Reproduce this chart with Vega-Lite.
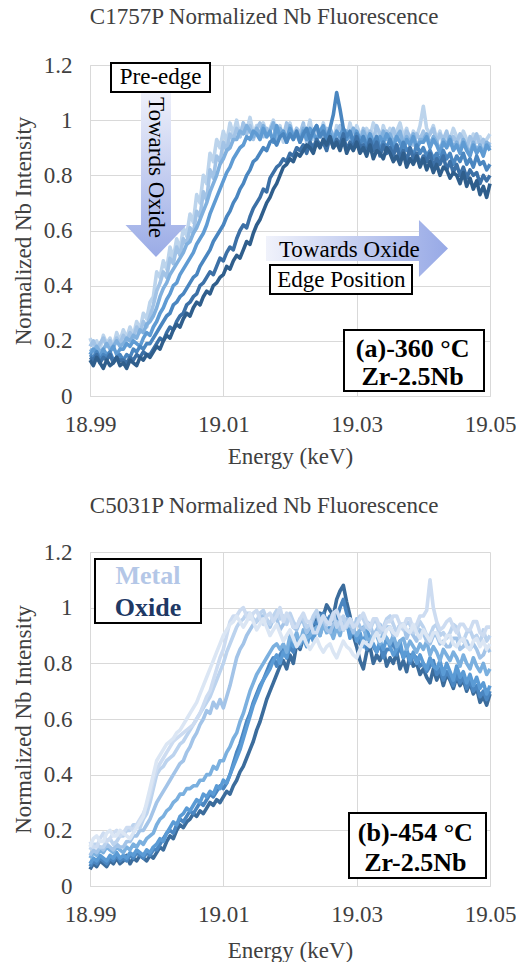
{
"$schema": "https://vega.github.io/schema/vega-lite/v6.json",
"padding": {"left": 12, "top": 6, "right": 0, "bottom": 0},
"resolve": {"scale": {"color": "independent"}},
"config": {
  "font": "Liberation Serif",
  "view": {"stroke": null},
  "axis": {"gridColor": "#d9d9d9", "domainColor": "#d9d9d9", "ticks": false, "labelFont": "Liberation Serif", "labelFontSize": 23, "labelColor": "#404040", "titleFont": "Liberation Serif", "titleFontSize": 23, "titleFontWeight": "normal", "titleColor": "#404040", "labelFlush": false, "labelOverlap": false},
  "title": {"font": "Liberation Serif", "fontSize": 23, "fontWeight": "normal", "color": "#404040", "frame": "bounds", "anchor": "middle"},
  "text": {"font": "Liberation Serif"},
  "concat": {"spacing": 27}
},
"datasets": {
"p1": [
{"e":18.99,"a":0.21,"b":0.18,"c":0.17,"d":0.15,"f":0.15,"g":0.14,"h":0.13},
{"e":18.9905,"a":0.18,"b":0.20,"c":0.16,"d":0.17,"f":0.14,"g":0.13,"h":0.11},
{"e":18.991,"a":0.20,"b":0.17,"c":0.18,"d":0.16,"f":0.16,"g":0.15,"h":0.14},
{"e":18.9915,"a":0.17,"b":0.19,"c":0.16,"d":0.14,"f":0.13,"g":0.12,"h":0.12},
{"e":18.992,"a":0.22,"b":0.21,"c":0.17,"d":0.17,"f":0.15,"g":0.14,"h":0.10},
{"e":18.9925,"a":0.19,"b":0.18,"c":0.19,"d":0.15,"f":0.14,"g":0.13,"h":0.13},
{"e":18.993,"a":0.21,"b":0.20,"c":0.17,"d":0.16,"f":0.16,"g":0.15,"h":0.11},
{"e":18.9935,"a":0.18,"b":0.17,"c":0.18,"d":0.18,"f":0.13,"g":0.12,"h":0.12},
{"e":18.994,"a":0.23,"b":0.21,"c":0.20,"d":0.15,"f":0.14,"g":0.14,"h":0.14},
{"e":18.9945,"a":0.20,"b":0.19,"c":0.18,"d":0.17,"f":0.15,"g":0.13,"h":0.11},
{"e":18.995,"a":0.24,"b":0.22,"c":0.19,"d":0.17,"f":0.13,"g":0.13,"h":0.12},
{"e":18.9955,"a":0.21,"b":0.20,"c":0.21,"d":0.19,"f":0.15,"g":0.12,"h":0.10},
{"e":18.996,"a":0.25,"b":0.23,"c":0.20,"d":0.18,"f":0.14,"g":0.14,"h":0.13},
{"e":18.9965,"a":0.22,"b":0.21,"c":0.22,"d":0.20,"f":0.17,"g":0.13,"h":0.12},
{"e":18.997,"a":0.27,"b":0.25,"c":0.21,"d":0.19,"f":0.16,"g":0.15,"h":0.11},
{"e":18.9975,"a":0.24,"b":0.23,"c":0.24,"d":0.18,"f":0.18,"g":0.14,"h":0.14},
{"e":18.998,"a":0.30,"b":0.27,"c":0.23,"d":0.21,"f":0.17,"g":0.16,"h":0.13},
{"e":18.9985,"a":0.28,"b":0.25,"c":0.26,"d":0.23,"f":0.19,"g":0.15,"h":0.15},
{"e":18.999,"a":0.34,"b":0.29,"c":0.27,"d":0.22,"f":0.19,"g":0.15,"h":0.14},
{"e":18.9995,"a":0.36,"b":0.33,"c":0.29,"d":0.25,"f":0.21,"g":0.17,"h":0.16},
{"e":19.0,"a":0.45,"b":0.38,"c":0.32,"d":0.27,"f":0.23,"g":0.19,"h":0.18},
{"e":19.0005,"a":0.43,"b":0.41,"c":0.36,"d":0.30,"f":0.25,"g":0.21,"h":0.17},
{"e":19.001,"a":0.49,"b":0.45,"c":0.39,"d":0.32,"f":0.27,"g":0.20,"h":0.20},
{"e":19.0015,"a":0.46,"b":0.43,"c":0.41,"d":0.35,"f":0.29,"g":0.23,"h":0.22},
{"e":19.002,"a":0.54,"b":0.50,"c":0.44,"d":0.37,"f":0.30,"g":0.25,"h":0.21},
{"e":19.0025,"a":0.50,"b":0.48,"c":0.46,"d":0.40,"f":0.33,"g":0.24,"h":0.24},
{"e":19.003,"a":0.57,"b":0.54,"c":0.48,"d":0.41,"f":0.34,"g":0.27,"h":0.26},
{"e":19.0035,"a":0.53,"b":0.51,"c":0.50,"d":0.44,"f":0.36,"g":0.29,"h":0.25},
{"e":19.004,"a":0.61,"b":0.57,"c":0.52,"d":0.46,"f":0.37,"g":0.30,"h":0.28},
{"e":19.0045,"a":0.58,"b":0.55,"c":0.55,"d":0.48,"f":0.39,"g":0.33,"h":0.30},
{"e":19.005,"a":0.66,"b":0.61,"c":0.56,"d":0.50,"f":0.41,"g":0.34,"h":0.29},
{"e":19.0055,"a":0.63,"b":0.59,"c":0.59,"d":0.52,"f":0.43,"g":0.36,"h":0.32},
{"e":19.006,"a":0.73,"b":0.67,"c":0.61,"d":0.55,"f":0.44,"g":0.37,"h":0.34},
{"e":19.0065,"a":0.70,"b":0.65,"c":0.64,"d":0.57,"f":0.47,"g":0.40,"h":0.33},
{"e":19.007,"a":0.80,"b":0.74,"c":0.67,"d":0.59,"f":0.49,"g":0.41,"h":0.36},
{"e":19.0075,"a":0.77,"b":0.71,"c":0.70,"d":0.62,"f":0.51,"g":0.43,"h":0.38},
{"e":19.008,"a":0.88,"b":0.82,"c":0.74,"d":0.66,"f":0.53,"g":0.45,"h":0.37},
{"e":19.0085,"a":0.85,"b":0.79,"c":0.77,"d":0.69,"f":0.56,"g":0.44,"h":0.40},
{"e":19.009,"a":0.93,"b":0.87,"c":0.80,"d":0.72,"f":0.58,"g":0.47,"h":0.41},
{"e":19.0095,"a":0.90,"b":0.85,"c":0.84,"d":0.75,"f":0.60,"g":0.50,"h":0.43},
{"e":19.01,"a":0.96,"b":0.92,"c":0.86,"d":0.78,"f":0.62,"g":0.49,"h":0.44},
{"e":19.0105,"a":0.92,"b":0.89,"c":0.89,"d":0.81,"f":0.65,"g":0.52,"h":0.47},
{"e":19.011,"a":0.99,"b":0.95,"c":0.90,"d":0.83,"f":0.67,"g":0.54,"h":0.46},
{"e":19.0115,"a":0.95,"b":0.93,"c":0.93,"d":0.86,"f":0.70,"g":0.53,"h":0.49},
{"e":19.012,"a":1.00,"b":0.97,"c":0.93,"d":0.88,"f":0.72,"g":0.57,"h":0.51},
{"e":19.0125,"a":0.94,"b":0.94,"c":0.96,"d":0.90,"f":0.75,"g":0.60,"h":0.50},
{"e":19.013,"a":0.99,"b":0.99,"c":0.95,"d":0.91,"f":0.77,"g":0.62,"h":0.53},
{"e":19.0135,"a":0.96,"b":0.95,"c":0.98,"d":0.94,"f":0.80,"g":0.61,"h":0.56},
{"e":19.014,"a":1.01,"b":0.98,"c":0.96,"d":0.93,"f":0.82,"g":0.65,"h":0.55},
{"e":19.0145,"a":0.95,"b":0.93,"c":0.94,"d":0.96,"f":0.85,"g":0.68,"h":0.59},
{"e":19.015,"a":0.98,"b":0.97,"c":0.97,"d":0.95,"f":0.86,"g":0.70,"h":0.62},
{"e":19.0155,"a":0.93,"b":0.99,"c":0.95,"d":0.93,"f":0.88,"g":0.72,"h":0.64},
{"e":19.016,"a":0.99,"b":0.94,"c":0.98,"d":0.97,"f":0.90,"g":0.75,"h":0.67},
{"e":19.0165,"a":0.95,"b":0.97,"c":0.94,"d":0.94,"f":0.89,"g":0.74,"h":0.70},
{"e":19.017,"a":0.97,"b":0.95,"c":0.96,"d":0.96,"f":0.92,"g":0.79,"h":0.72},
{"e":19.0175,"a":1.00,"b":0.93,"c":0.99,"d":0.92,"f":0.93,"g":0.81,"h":0.75},
{"e":19.018,"a":0.94,"b":0.98,"c":0.93,"d":0.98,"f":0.91,"g":0.83,"h":0.77},
{"e":19.0185,"a":0.98,"b":0.96,"c":0.97,"d":0.94,"f":0.94,"g":0.84,"h":0.80},
{"e":19.019,"a":0.92,"b":0.94,"c":0.95,"d":0.96,"f":0.95,"g":0.86,"h":0.83},
{"e":19.0195,"a":0.97,"b":0.99,"c":0.92,"d":0.93,"f":0.92,"g":0.85,"h":0.84},
{"e":19.02,"a":0.99,"b":0.96,"c":0.98,"d":0.97,"f":0.95,"g":0.88,"h":0.86},
{"e":19.0205,"a":0.94,"b":0.93,"c":0.94,"d":0.94,"f":0.93,"g":0.87,"h":0.85},
{"e":19.021,"a":0.97,"b":0.97,"c":0.96,"d":0.95,"f":0.96,"g":0.90,"h":0.88},
{"e":19.0215,"a":0.93,"b":0.95,"c":0.93,"d":0.92,"f":0.92,"g":0.89,"h":0.87},
{"e":19.022,"a":0.98,"b":0.99,"c":0.97,"d":0.96,"f":0.95,"g":0.91,"h":0.89},
{"e":19.0225,"a":0.95,"b":0.92,"c":0.95,"d":0.93,"f":0.97,"g":0.88,"h":0.91},
{"e":19.023,"a":1.00,"b":0.96,"c":0.92,"d":0.97,"f":0.93,"g":0.92,"h":0.90},
{"e":19.0235,"a":0.93,"b":0.94,"c":0.96,"d":0.95,"f":0.96,"g":0.90,"h":0.88},
{"e":19.024,"a":0.97,"b":0.98,"c":0.98,"d":0.93,"f":0.98,"g":0.93,"h":0.92},
{"e":19.0245,"a":0.95,"b":0.95,"c":0.94,"d":0.96,"f":0.94,"g":0.91,"h":0.90},
{"e":19.025,"a":0.99,"b":0.93,"c":0.96,"d":0.98,"f":0.96,"g":0.92,"h":0.93},
{"e":19.0255,"a":0.94,"b":0.97,"c":0.93,"d":0.93,"f":0.93,"g":0.89,"h":0.91},
{"e":19.026,"a":0.96,"b":0.95,"c":0.97,"d":0.95,"f":0.97,"g":0.94,"h":0.94},
{"e":19.0265,"a":0.92,"b":0.92,"c":0.94,"d":0.92,"f":1.02,"g":0.90,"h":0.90},
{"e":19.027,"a":0.98,"b":0.96,"c":0.91,"d":0.96,"f":1.10,"g":0.93,"h":0.92},
{"e":19.0275,"a":0.95,"b":0.98,"c":0.95,"d":0.94,"f":1.04,"g":0.91,"h":0.89},
{"e":19.028,"a":0.97,"b":0.94,"c":0.93,"d":0.97,"f":0.97,"g":0.95,"h":0.93},
{"e":19.0285,"a":0.93,"b":0.96,"c":0.96,"d":0.93,"f":0.94,"g":0.89,"h":0.88},
{"e":19.029,"a":0.99,"b":0.93,"c":0.94,"d":0.95,"f":0.96,"g":0.92,"h":0.91},
{"e":19.0295,"a":0.94,"b":0.97,"c":0.97,"d":0.92,"f":0.92,"g":0.90,"h":0.89},
{"e":19.03,"a":0.98,"b":0.95,"c":0.94,"d":0.96,"f":0.95,"g":0.94,"h":0.92},
{"e":19.0305,"a":0.95,"b":0.92,"c":0.92,"d":0.93,"f":0.91,"g":0.90,"h":0.88},
{"e":19.031,"a":0.92,"b":0.97,"c":0.96,"d":0.94,"f":0.94,"g":0.91,"h":0.90},
{"e":19.0315,"a":0.97,"b":0.94,"c":0.93,"d":0.91,"f":0.90,"g":0.88,"h":0.87},
{"e":19.032,"a":0.94,"b":0.96,"c":0.95,"d":0.95,"f":0.93,"g":0.93,"h":0.91},
{"e":19.0325,"a":0.99,"b":0.93,"c":0.91,"d":0.92,"f":0.91,"g":0.89,"h":0.86},
{"e":19.033,"a":0.96,"b":0.98,"c":0.94,"d":0.90,"f":0.94,"g":0.92,"h":0.89},
{"e":19.0335,"a":0.92,"b":0.95,"c":0.92,"d":0.94,"f":0.89,"g":0.87,"h":0.88},
{"e":19.034,"a":0.98,"b":0.92,"c":0.96,"d":0.92,"f":0.92,"g":0.91,"h":0.86},
{"e":19.0345,"a":0.94,"b":0.96,"c":0.93,"d":0.95,"f":0.90,"g":0.88,"h":0.90},
{"e":19.035,"a":0.97,"b":0.94,"c":0.95,"d":0.93,"f":0.93,"g":0.90,"h":0.88},
{"e":19.0355,"a":0.93,"b":0.97,"c":0.92,"d":0.90,"f":0.89,"g":0.87,"h":0.85},
{"e":19.036,"a":0.96,"b":0.93,"c":0.94,"d":0.94,"f":0.91,"g":0.91,"h":0.87},
{"e":19.0365,"a":0.99,"b":0.95,"c":0.96,"d":0.92,"f":0.88,"g":0.86,"h":0.84},
{"e":19.037,"a":0.94,"b":0.92,"c":0.91,"d":0.89,"f":0.92,"g":0.89,"h":0.88},
{"e":19.0375,"a":0.97,"b":0.96,"c":0.94,"d":0.93,"f":0.89,"g":0.85,"h":0.83},
{"e":19.038,"a":0.92,"b":0.94,"c":0.92,"d":0.91,"f":0.90,"g":0.90,"h":0.86},
{"e":19.0385,"a":0.96,"b":0.91,"c":0.95,"d":0.94,"f":0.87,"g":0.86,"h":0.84},
{"e":19.039,"a":0.94,"b":0.95,"c":0.90,"d":0.90,"f":0.91,"g":0.88,"h":0.87},
{"e":19.0395,"a":0.98,"b":0.93,"c":0.93,"d":0.92,"f":0.88,"g":0.84,"h":0.83},
{"e":19.04,"a":1.05,"b":0.96,"c":0.93,"d":0.92,"f":0.90,"g":0.87,"h":0.86},
{"e":19.0405,"a":0.97,"b":0.93,"c":0.95,"d":0.94,"f":0.87,"g":0.85,"h":0.82},
{"e":19.041,"a":0.95,"b":0.95,"c":0.91,"d":0.90,"f":0.89,"g":0.88,"h":0.85},
{"e":19.0415,"a":0.98,"b":0.97,"c":0.94,"d":0.93,"f":0.86,"g":0.83,"h":0.81},
{"e":19.042,"a":0.93,"b":0.92,"c":0.92,"d":0.91,"f":0.88,"g":0.86,"h":0.84},
{"e":19.0425,"a":0.96,"b":0.95,"c":0.89,"d":0.88,"f":0.85,"g":0.84,"h":0.80},
{"e":19.043,"a":0.91,"b":0.93,"c":0.93,"d":0.92,"f":0.89,"g":0.87,"h":0.83},
{"e":19.0435,"a":0.95,"b":0.96,"c":0.91,"d":0.90,"f":0.86,"g":0.82,"h":0.82},
{"e":19.044,"a":0.93,"b":0.91,"c":0.94,"d":0.93,"f":0.88,"g":0.85,"h":0.79},
{"e":19.0445,"a":0.97,"b":0.94,"c":0.90,"d":0.89,"f":0.84,"g":0.81,"h":0.81},
{"e":19.045,"a":0.94,"b":0.92,"c":0.92,"d":0.91,"f":0.87,"g":0.84,"h":0.80},
{"e":19.0455,"a":0.91,"b":0.95,"c":0.89,"d":0.88,"f":0.85,"g":0.80,"h":0.77},
{"e":19.046,"a":0.96,"b":0.93,"c":0.93,"d":0.92,"f":0.88,"g":0.83,"h":0.81},
{"e":19.0465,"a":0.93,"b":0.90,"c":0.90,"d":0.89,"f":0.84,"g":0.79,"h":0.76},
{"e":19.047,"a":0.90,"b":0.94,"c":0.88,"d":0.87,"f":0.86,"g":0.82,"h":0.79},
{"e":19.0475,"a":0.95,"b":0.92,"c":0.92,"d":0.91,"f":0.83,"g":0.80,"h":0.75},
{"e":19.048,"a":0.92,"b":0.95,"c":0.89,"d":0.88,"f":0.87,"g":0.81,"h":0.78},
{"e":19.0485,"a":0.94,"b":0.91,"c":0.91,"d":0.90,"f":0.84,"g":0.77,"h":0.73},
{"e":19.049,"a":0.91,"b":0.93,"c":0.88,"d":0.87,"f":0.85,"g":0.80,"h":0.76},
{"e":19.0495,"a":0.93,"b":0.90,"c":0.92,"d":0.91,"f":0.82,"g":0.78,"h":0.72},
{"e":19.05,"a":0.95,"b":0.92,"c":0.90,"d":0.89,"f":0.84,"g":0.80,"h":0.77}
],
"p2": [
{"e":18.99,"a":0.06,"b":0.07,"c":0.08,"d":0.10,"f":0.11,"g":0.13,"h":0.16,"i":0.14},
{"e":18.9905,"a":0.08,"b":0.09,"c":0.10,"d":0.12,"f":0.13,"g":0.15,"h":0.14,"i":0.17},
{"e":18.991,"a":0.07,"b":0.08,"c":0.09,"d":0.11,"f":0.12,"g":0.15,"h":0.14,"i":0.18},
{"e":18.9915,"a":0.09,"b":0.10,"c":0.11,"d":0.13,"f":0.14,"g":0.14,"h":0.17,"i":0.16},
{"e":18.992,"a":0.08,"b":0.09,"c":0.10,"d":0.12,"f":0.13,"g":0.14,"h":0.19,"i":0.16},
{"e":18.9925,"a":0.07,"b":0.08,"c":0.09,"d":0.14,"f":0.15,"g":0.16,"h":0.16,"i":0.19},
{"e":18.993,"a":0.09,"b":0.10,"c":0.11,"d":0.13,"f":0.14,"g":0.17,"h":0.17,"i":0.20},
{"e":18.9935,"a":0.08,"b":0.09,"c":0.10,"d":0.12,"f":0.13,"g":0.15,"h":0.19,"i":0.18},
{"e":18.994,"a":0.10,"b":0.11,"c":0.12,"d":0.14,"f":0.15,"g":0.16,"h":0.20,"i":0.18},
{"e":18.9945,"a":0.08,"b":0.09,"c":0.10,"d":0.13,"f":0.14,"g":0.18,"h":0.18,"i":0.20},
{"e":18.995,"a":0.09,"b":0.10,"c":0.11,"d":0.12,"f":0.14,"g":0.18,"h":0.19,"i":0.19},
{"e":18.9955,"a":0.11,"b":0.09,"c":0.10,"d":0.14,"f":0.16,"g":0.20,"h":0.21,"i":0.18},
{"e":18.996,"a":0.08,"b":0.11,"c":0.12,"d":0.13,"f":0.16,"g":0.20,"h":0.21,"i":0.17},
{"e":18.9965,"a":0.10,"b":0.10,"c":0.11,"d":0.15,"f":0.18,"g":0.22,"h":0.20,"i":0.19},
{"e":18.997,"a":0.09,"b":0.12,"c":0.13,"d":0.14,"f":0.18,"g":0.22,"h":0.22,"i":0.21},
{"e":18.9975,"a":0.11,"b":0.11,"c":0.12,"d":0.16,"f":0.20,"g":0.21,"h":0.24,"i":0.23},
{"e":18.998,"a":0.10,"b":0.10,"c":0.11,"d":0.15,"f":0.20,"g":0.24,"h":0.26,"i":0.25},
{"e":18.9985,"a":0.09,"b":0.12,"c":0.13,"d":0.17,"f":0.22,"g":0.26,"h":0.29,"i":0.30},
{"e":18.999,"a":0.11,"b":0.11,"c":0.12,"d":0.18,"f":0.24,"g":0.30,"h":0.33,"i":0.35},
{"e":18.9995,"a":0.10,"b":0.13,"c":0.14,"d":0.19,"f":0.27,"g":0.35,"h":0.38,"i":0.40},
{"e":19.0,"a":0.12,"b":0.13,"c":0.15,"d":0.22,"f":0.30,"g":0.40,"h":0.42,"i":0.45},
{"e":19.0005,"a":0.14,"b":0.15,"c":0.17,"d":0.24,"f":0.32,"g":0.42,"h":0.44,"i":0.47},
{"e":19.001,"a":0.13,"b":0.17,"c":0.16,"d":0.25,"f":0.34,"g":0.43,"h":0.46,"i":0.49},
{"e":19.0015,"a":0.16,"b":0.19,"c":0.19,"d":0.27,"f":0.36,"g":0.45,"h":0.48,"i":0.51},
{"e":19.002,"a":0.18,"b":0.20,"c":0.21,"d":0.28,"f":0.38,"g":0.46,"h":0.50,"i":0.52},
{"e":19.0025,"a":0.17,"b":0.19,"c":0.23,"d":0.30,"f":0.40,"g":0.47,"h":0.52,"i":0.53},
{"e":19.003,"a":0.20,"b":0.22,"c":0.22,"d":0.31,"f":0.42,"g":0.49,"h":0.53,"i":0.55},
{"e":19.0035,"a":0.22,"b":0.24,"c":0.25,"d":0.33,"f":0.44,"g":0.51,"h":0.54,"i":0.56},
{"e":19.004,"a":0.21,"b":0.23,"c":0.26,"d":0.33,"f":0.45,"g":0.52,"h":0.55,"i":0.58},
{"e":19.0045,"a":0.23,"b":0.25,"c":0.28,"d":0.35,"f":0.48,"g":0.54,"h":0.56,"i":0.60},
{"e":19.005,"a":0.24,"b":0.27,"c":0.27,"d":0.35,"f":0.50,"g":0.56,"h":0.57,"i":0.62},
{"e":19.0055,"a":0.26,"b":0.26,"c":0.29,"d":0.36,"f":0.53,"g":0.58,"h":0.58,"i":0.64},
{"e":19.006,"a":0.25,"b":0.28,"c":0.31,"d":0.36,"f":0.55,"g":0.60,"h":0.60,"i":0.66},
{"e":19.0065,"a":0.27,"b":0.30,"c":0.30,"d":0.38,"f":0.58,"g":0.62,"h":0.62,"i":0.69},
{"e":19.007,"a":0.26,"b":0.29,"c":0.33,"d":0.38,"f":0.60,"g":0.64,"h":0.65,"i":0.72},
{"e":19.0075,"a":0.28,"b":0.31,"c":0.32,"d":0.40,"f":0.63,"g":0.66,"h":0.68,"i":0.75},
{"e":19.008,"a":0.30,"b":0.33,"c":0.34,"d":0.40,"f":0.62,"g":0.68,"h":0.70,"i":0.78},
{"e":19.0085,"a":0.29,"b":0.32,"c":0.33,"d":0.43,"f":0.66,"g":0.71,"h":0.74,"i":0.81},
{"e":19.009,"a":0.31,"b":0.34,"c":0.36,"d":0.42,"f":0.64,"g":0.74,"h":0.78,"i":0.84},
{"e":19.0095,"a":0.30,"b":0.36,"c":0.35,"d":0.45,"f":0.67,"g":0.77,"h":0.82,"i":0.87},
{"e":19.01,"a":0.32,"b":0.35,"c":0.38,"d":0.45,"f":0.64,"g":0.80,"h":0.85,"i":0.90},
{"e":19.0105,"a":0.34,"b":0.37,"c":0.37,"d":0.48,"f":0.68,"g":0.84,"h":0.90,"i":0.92},
{"e":19.011,"a":0.33,"b":0.40,"c":0.40,"d":0.50,"f":0.72,"g":0.87,"h":0.95,"i":0.94},
{"e":19.0115,"a":0.36,"b":0.44,"c":0.43,"d":0.53,"f":0.77,"g":0.90,"h":0.97,"i":0.95},
{"e":19.012,"a":0.38,"b":0.48,"c":0.46,"d":0.55,"f":0.82,"g":0.93,"h":0.97,"i":0.97},
{"e":19.0125,"a":0.41,"b":0.51,"c":0.49,"d":0.59,"f":0.85,"g":0.95,"h":0.99,"i":0.95},
{"e":19.013,"a":0.43,"b":0.55,"c":0.53,"d":0.62,"f":0.87,"g":0.96,"h":1.00,"i":0.93},
{"e":19.0135,"a":0.46,"b":0.59,"c":0.57,"d":0.66,"f":0.90,"g":0.98,"h":0.97,"i":0.95},
{"e":19.014,"a":0.49,"b":0.62,"c":0.61,"d":0.70,"f":0.92,"g":0.98,"h":0.96,"i":0.98},
{"e":19.0145,"a":0.52,"b":0.66,"c":0.65,"d":0.73,"f":0.94,"g":0.96,"h":0.98,"i":0.95},
{"e":19.015,"a":0.56,"b":0.69,"c":0.68,"d":0.76,"f":0.95,"g":0.95,"h":0.99,"i":0.92},
{"e":19.0155,"a":0.59,"b":0.72,"c":0.71,"d":0.78,"f":0.97,"g":0.98,"h":0.96,"i":0.94},
{"e":19.016,"a":0.63,"b":0.74,"c":0.74,"d":0.80,"f":0.97,"g":0.99,"h":0.94,"i":0.96},
{"e":19.0165,"a":0.67,"b":0.77,"c":0.76,"d":0.82,"f":0.94,"g":0.96,"h":0.97,"i":0.93},
{"e":19.017,"a":0.70,"b":0.80,"c":0.78,"d":0.84,"f":0.93,"g":0.94,"h":0.98,"i":0.90},
{"e":19.0175,"a":0.73,"b":0.82,"c":0.81,"d":0.86,"f":0.96,"g":0.97,"h":0.95,"i":0.92},
{"e":19.018,"a":0.76,"b":0.79,"c":0.83,"d":0.87,"f":0.96,"g":0.99,"h":0.97,"i":0.94},
{"e":19.0185,"a":0.79,"b":0.83,"c":0.80,"d":0.85,"f":0.92,"g":0.96,"h":1.00,"i":0.91},
{"e":19.019,"a":0.81,"b":0.85,"c":0.84,"d":0.87,"f":0.94,"g":0.97,"h":0.95,"i":0.88},
{"e":19.0195,"a":0.78,"b":0.82,"c":0.82,"d":0.84,"f":0.97,"g":0.94,"h":0.98,"i":0.90},
{"e":19.02,"a":0.83,"b":0.86,"c":0.88,"d":0.90,"f":0.97,"g":0.98,"h":0.96,"i":0.92},
{"e":19.0205,"a":0.80,"b":0.84,"c":0.86,"d":0.88,"f":0.93,"g":0.95,"h":0.93,"i":0.89},
{"e":19.021,"a":0.87,"b":0.88,"c":0.90,"d":0.91,"f":0.92,"g":0.93,"h":0.93,"i":0.86},
{"e":19.0215,"a":0.85,"b":0.86,"c":0.87,"d":0.87,"f":0.95,"g":0.96,"h":0.96,"i":0.88},
{"e":19.022,"a":0.89,"b":0.90,"c":0.89,"d":0.92,"f":0.95,"g":0.96,"h":0.98,"i":0.90},
{"e":19.0225,"a":0.87,"b":0.88,"c":0.86,"d":0.89,"f":0.91,"g":0.93,"h":0.95,"i":0.87},
{"e":19.023,"a":0.93,"b":0.92,"c":0.91,"d":0.90,"f":0.93,"g":0.94,"h":0.95,"i":0.85},
{"e":19.0235,"a":0.91,"b":0.95,"c":0.88,"d":0.92,"f":0.96,"g":0.97,"h":0.91,"i":0.87},
{"e":19.024,"a":0.96,"b":0.94,"c":0.93,"d":0.93,"f":0.98,"g":0.99,"h":0.91,"i":0.89},
{"e":19.0245,"a":0.98,"b":0.97,"c":0.90,"d":0.90,"f":0.94,"g":0.95,"h":0.94,"i":0.86},
{"e":19.025,"a":0.97,"b":0.98,"c":0.95,"d":0.94,"f":0.96,"g":0.97,"h":0.97,"i":0.84},
{"e":19.0255,"a":1.01,"b":0.95,"c":0.92,"d":0.91,"f":0.92,"g":0.94,"h":0.95,"i":0.86},
{"e":19.026,"a":0.99,"b":0.97,"c":0.93,"d":0.92,"f":0.91,"g":0.95,"h":0.94,"i":0.87},
{"e":19.0265,"a":0.97,"b":0.94,"c":0.91,"d":0.89,"f":0.94,"g":0.98,"h":0.98,"i":0.84},
{"e":19.027,"a":1.03,"b":0.96,"c":0.94,"d":0.93,"f":0.95,"g":0.93,"h":0.99,"i":0.82},
{"e":19.0275,"a":1.06,"b":1.00,"c":0.96,"d":0.90,"f":0.92,"g":0.95,"h":0.96,"i":0.85},
{"e":19.028,"a":1.08,"b":1.03,"c":0.92,"d":0.95,"f":0.93,"g":0.97,"h":0.92,"i":0.88},
{"e":19.0285,"a":1.02,"b":0.98,"c":0.95,"d":0.93,"f":0.96,"g":0.93,"h":0.94,"i":0.86},
{"e":19.029,"a":0.97,"b":0.95,"c":0.89,"d":0.96,"f":0.95,"g":0.96,"h":0.96,"i":0.85},
{"e":19.0295,"a":0.90,"b":0.92,"c":0.93,"d":0.92,"f":0.91,"g":0.94,"h":0.93,"i":0.83},
{"e":19.03,"a":0.86,"b":0.90,"c":0.88,"d":0.90,"f":0.96,"g":0.94,"h":0.94,"i":0.82},
{"e":19.0305,"a":0.81,"b":0.87,"c":0.91,"d":0.92,"f":0.93,"g":0.97,"h":0.96,"i":0.85},
{"e":19.031,"a":0.78,"b":0.89,"c":0.86,"d":0.93,"f":0.92,"g":0.96,"h":0.98,"i":0.88},
{"e":19.0315,"a":0.84,"b":0.85,"c":0.92,"d":0.89,"f":0.95,"g":0.93,"h":0.95,"i":0.87},
{"e":19.032,"a":0.86,"b":0.88,"c":0.89,"d":0.88,"f":0.94,"g":0.92,"h":0.93,"i":0.86},
{"e":19.0325,"a":0.80,"b":0.86,"c":0.87,"d":0.91,"f":0.90,"g":0.95,"h":0.96,"i":0.89},
{"e":19.033,"a":0.83,"b":0.84,"c":0.84,"d":0.90,"f":0.92,"g":0.95,"h":0.96,"i":0.91},
{"e":19.0335,"a":0.81,"b":0.87,"c":0.88,"d":0.87,"f":0.94,"g":0.91,"h":0.93,"i":0.88},
{"e":19.034,"a":0.85,"b":0.82,"c":0.85,"d":0.91,"f":0.90,"g":0.93,"h":0.92,"i":0.89},
{"e":19.0345,"a":0.79,"b":0.85,"c":0.89,"d":0.89,"f":0.93,"g":0.96,"h":0.95,"i":0.92},
{"e":19.035,"a":0.82,"b":0.85,"c":0.86,"d":0.87,"f":0.93,"g":0.97,"h":0.95,"i":0.93},
{"e":19.0355,"a":0.80,"b":0.88,"c":0.83,"d":0.90,"f":0.90,"g":0.94,"h":0.97,"i":0.91},
{"e":19.036,"a":0.84,"b":0.83,"c":0.85,"d":0.86,"f":0.91,"g":0.91,"h":0.97,"i":0.90},
{"e":19.0365,"a":0.78,"b":0.86,"c":0.88,"d":0.88,"f":0.94,"g":0.94,"h":0.94,"i":0.93},
{"e":19.037,"a":0.81,"b":0.82,"c":0.82,"d":0.89,"f":0.94,"g":0.92,"h":0.93,"i":0.94},
{"e":19.0375,"a":0.77,"b":0.84,"c":0.85,"d":0.85,"f":0.89,"g":0.95,"h":0.96,"i":0.92},
{"e":19.038,"a":0.83,"b":0.80,"c":0.81,"d":0.88,"f":0.92,"g":0.94,"h":0.96,"i":0.91},
{"e":19.0385,"a":0.79,"b":0.83,"c":0.84,"d":0.86,"f":0.90,"g":0.91,"h":0.92,"i":0.94},
{"e":19.039,"a":0.80,"b":0.82,"c":0.80,"d":0.84,"f":0.88,"g":0.92,"h":0.94,"i":0.91},
{"e":19.0395,"a":0.76,"b":0.79,"c":0.83,"d":0.87,"f":0.92,"g":0.95,"h":0.97,"i":0.89},
{"e":19.04,"a":0.78,"b":0.80,"c":0.80,"d":0.85,"f":0.91,"g":0.93,"h":0.97,"i":0.92},
{"e":19.0405,"a":0.75,"b":0.77,"c":0.78,"d":0.88,"f":0.88,"g":0.90,"h":0.99,"i":0.90},
{"e":19.041,"a":0.73,"b":0.79,"c":0.82,"d":0.83,"f":0.87,"g":0.90,"h":1.10,"i":0.88},
{"e":19.0415,"a":0.78,"b":0.81,"c":0.79,"d":0.86,"f":0.90,"g":0.93,"h":1.00,"i":0.91},
{"e":19.042,"a":0.74,"b":0.76,"c":0.78,"d":0.84,"f":0.90,"g":0.94,"h":0.95,"i":0.91},
{"e":19.0425,"a":0.77,"b":0.78,"c":0.81,"d":0.81,"f":0.87,"g":0.90,"h":0.92,"i":0.88},
{"e":19.043,"a":0.72,"b":0.74,"c":0.76,"d":0.85,"f":0.88,"g":0.91,"h":0.93,"i":0.87},
{"e":19.0435,"a":0.76,"b":0.77,"c":0.80,"d":0.83,"f":0.86,"g":0.89,"h":0.95,"i":0.90},
{"e":19.044,"a":0.74,"b":0.75,"c":0.77,"d":0.81,"f":0.86,"g":0.91,"h":0.96,"i":0.90},
{"e":19.0445,"a":0.71,"b":0.72,"c":0.74,"d":0.84,"f":0.89,"g":0.94,"h":0.93,"i":0.87},
{"e":19.045,"a":0.75,"b":0.76,"c":0.79,"d":0.82,"f":0.89,"g":0.93,"h":0.91,"i":0.86},
{"e":19.0455,"a":0.72,"b":0.73,"c":0.75,"d":0.79,"f":0.85,"g":0.89,"h":0.94,"i":0.88},
{"e":19.046,"a":0.74,"b":0.75,"c":0.77,"d":0.83,"f":0.86,"g":0.88,"h":0.94,"i":0.89},
{"e":19.0465,"a":0.70,"b":0.71,"c":0.73,"d":0.80,"f":0.88,"g":0.91,"h":0.92,"i":0.86},
{"e":19.047,"a":0.73,"b":0.74,"c":0.76,"d":0.78,"f":0.85,"g":0.92,"h":0.92,"i":0.85},
{"e":19.0475,"a":0.69,"b":0.70,"c":0.72,"d":0.82,"f":0.87,"g":0.89,"h":0.95,"i":0.88},
{"e":19.048,"a":0.71,"b":0.72,"c":0.75,"d":0.79,"f":0.85,"g":0.90,"h":0.95,"i":0.89},
{"e":19.0485,"a":0.66,"b":0.68,"c":0.71,"d":0.77,"f":0.82,"g":0.87,"h":0.91,"i":0.86},
{"e":19.049,"a":0.68,"b":0.70,"c":0.73,"d":0.80,"f":0.83,"g":0.92,"h":0.90,"i":0.88},
{"e":19.0495,"a":0.65,"b":0.67,"c":0.69,"d":0.76,"f":0.86,"g":0.88,"h":0.93,"i":0.85},
{"e":19.05,"a":0.69,"b":0.70,"c":0.72,"d":0.78,"f":0.84,"g":0.90,"h":0.93,"i":0.87}
]
},
"vconcat": [
{
  "title": {"text": "C1757P Normalized Nb Fluorescence", "offset": 25},
  "width": 400, "height": 331,
  "layer": [
    {
      "data": {"name": "p1"},
      "transform": [{"fold": ["a","b","c","d","f","g","h"], "as": ["k","v"]}],
      "mark": {"type": "line", "strokeWidth": 3.6, "strokeJoin": "round"},
      "encoding": {
        "x": {"field": "e", "type": "quantitative", "scale": {"domain": [18.99, 19.05], "nice": false},
              "axis": {"values": [18.99, 19.01, 19.03, 19.05], "format": ".2f", "title": "Energy (keV)", "labelPadding": 17, "titlePadding": 9, "grid": true}},
        "y": {"field": "v", "type": "quantitative", "scale": {"domain": [0, 1.2], "nice": false},
              "axis": {"values": [0, 0.2, 0.4, 0.6, 0.8, 1, 1.2], "format": "~g", "title": "Normalized Nb Intensity", "labelPadding": 18, "titlePadding": 8, "grid": true}},
        "color": {"field": "k", "type": "nominal", "legend": null,
                  "scale": {"domain": ["a","b","c","d","f","g","h"], "range": ["#bcd4ec","#a2c3e6","#80b0de","#5f9bd3","#4a86c0","#3c70a6","#2f5e8c"]}}
      }
    },
    {
      "data": {"values": [{"e": 18.9999, "v": 0.801}]},
      "mark": {"type": "point", "shape": "M -0.183 -1 L 0.183 -1 L 0.183 0.61 L 0.372 0.61 L 0 1 L -0.372 0.61 L -0.183 0.61 Z", "size": 26896, "filled": true, "opacity": 1, "strokeWidth": 0,
               "fill": {"gradient": "linear", "x1": 0, "y1": 0, "x2": 0, "y2": 1, "stops": [{"offset": 0, "color": "#eef0fa"}, {"offset": 1, "color": "#9aabe6"}]}},
      "encoding": {"x": {"field": "e", "type": "quantitative"}, "y": {"field": "v", "type": "quantitative"}}
    },
    {
      "data": {"values": [{"e": 19.03005, "v": 0.5348}]},
      "mark": {"type": "point", "shape": "M -1 -0.137 L 0.681 -0.137 L 0.681 -0.313 L 1 0 L 0.681 0.313 L 0.681 0.137 L -1 0.137 Z", "size": 33124, "filled": true, "opacity": 1, "strokeWidth": 0,
               "fill": {"gradient": "linear", "x1": 0, "y1": 0, "x2": 1, "y2": 0, "stops": [{"offset": 0, "color": "#f0f2fb"}, {"offset": 1, "color": "#97a9e6"}]}},
      "encoding": {"x": {"field": "e", "type": "quantitative"}, "y": {"field": "v", "type": "quantitative"}}
    },
    {
      "data": {"values": [{"e": 18.99315, "e2": 19.008, "v": 1.207, "v2": 1.102}, {"e": 19.017, "e2": 19.0383, "v": 0.475, "v2": 0.37}, {"e": 19.0281, "e2": 19.0491, "v": 0.2393, "v2": 0.0181}]},
      "mark": {"type": "rect", "fill": "white", "stroke": "black", "strokeWidth": 2},
      "encoding": {"x": {"field": "e", "type": "quantitative"}, "x2": {"field": "e2"}, "y": {"field": "v", "type": "quantitative"}, "y2": {"field": "v2"}}
    },
    {
      "data": {"values": [{"t": "Pre-edge", "e": 19.0006, "v": 1.155}, {"t": "Towards Oxide", "e": 19.0289, "v": 0.53}, {"t": "Edge Position", "e": 19.0277, "v": 0.42}]},
      "mark": {"type": "text", "fontSize": 23, "color": "black", "baseline": "middle", "align": "center"},
      "encoding": {"x": {"field": "e", "type": "quantitative"}, "y": {"field": "v", "type": "quantitative"}, "text": {"field": "t"}}
    },
    {
      "data": {"values": [{"t": "Towards Oxide", "e": 18.9999, "v": 0.8285}]},
      "mark": {"type": "text", "fontSize": 23, "color": "black", "baseline": "middle", "align": "center", "angle": 90},
      "encoding": {"x": {"field": "e", "type": "quantitative"}, "y": {"field": "v", "type": "quantitative"}, "text": {"field": "t"}}
    },
    {
      "data": {"values": [{"t": "(a)-360 °C", "e": 19.0384, "v": 0.17}, {"t": "Zr-2.5Nb", "e": 19.0384, "v": 0.069}]},
      "mark": {"type": "text", "fontSize": 26, "fontWeight": "bold", "color": "black", "baseline": "middle", "align": "center"},
      "encoding": {"x": {"field": "e", "type": "quantitative"}, "y": {"field": "v", "type": "quantitative"}, "text": {"field": "t"}}
    }
  ]
},
{
  "title": {"text": "C5031P Normalized Nb Fluorescence", "offset": 23},
  "width": 400, "height": 334,
  "layer": [
    {
      "data": {"name": "p2"},
      "transform": [{"fold": ["a","b","c","d","f","g","h","i"], "as": ["k","v"]}],
      "mark": {"type": "line", "strokeWidth": 3.6, "strokeJoin": "round"},
      "encoding": {
        "x": {"field": "e", "type": "quantitative", "scale": {"domain": [18.99, 19.05], "nice": false},
              "axis": {"values": [18.99, 19.01, 19.03, 19.05], "format": ".2f", "title": "Energy (keV)", "labelPadding": 17, "titlePadding": 13, "grid": true}},
        "y": {"field": "v", "type": "quantitative", "scale": {"domain": [0, 1.2], "nice": false},
              "axis": {"values": [0, 0.2, 0.4, 0.6, 0.8, 1, 1.2], "format": "~g", "title": "Normalized Nb Intensity", "labelPadding": 18, "titlePadding": 8, "grid": true}},
        "color": {"field": "k", "type": "nominal", "legend": null,
                  "scale": {"domain": ["a","b","c","d","f","g","h","i"], "range": ["#3b6c9c","#4a86c1","#5b9bd5","#7bb0df","#a3c4e8","#bcd3ee","#cddcf1","#dbe6f4"]}}
      }
    },
    {
      "data": {"values": [{"e": 18.99075, "e2": 19.00665, "v": 1.175, "v2": 0.945}, {"e": 19.02885, "e2": 19.0494, "v": 0.262, "v2": 0.029}]},
      "mark": {"type": "rect", "fill": "white", "stroke": "black", "strokeWidth": 2},
      "encoding": {"x": {"field": "e", "type": "quantitative"}, "x2": {"field": "e2"}, "y": {"field": "v", "type": "quantitative"}, "y2": {"field": "v2"}}
    },
    {
      "data": {"values": [{"t": "Metal", "e": 18.9987, "v": 1.114}]},
      "mark": {"type": "text", "fontSize": 26, "fontWeight": "bold", "color": "#b4c7e7", "baseline": "middle", "align": "center"},
      "encoding": {"x": {"field": "e", "type": "quantitative"}, "y": {"field": "v", "type": "quantitative"}, "text": {"field": "t"}}
    },
    {
      "data": {"values": [{"t": "Oxide", "e": 18.9987, "v": 1.0}]},
      "mark": {"type": "text", "fontSize": 26, "fontWeight": "bold", "color": "#203864", "baseline": "middle", "align": "center"},
      "encoding": {"x": {"field": "e", "type": "quantitative"}, "y": {"field": "v", "type": "quantitative"}, "text": {"field": "t"}}
    },
    {
      "data": {"values": [{"t": "(b)-454 °C", "e": 19.0388, "v": 0.192}, {"t": "Zr-2.5Nb", "e": 19.0388, "v": 0.084}]},
      "mark": {"type": "text", "fontSize": 26, "fontWeight": "bold", "color": "black", "baseline": "middle", "align": "center"},
      "encoding": {"x": {"field": "e", "type": "quantitative"}, "y": {"field": "v", "type": "quantitative"}, "text": {"field": "t"}}
    }
  ]
}
]
}
